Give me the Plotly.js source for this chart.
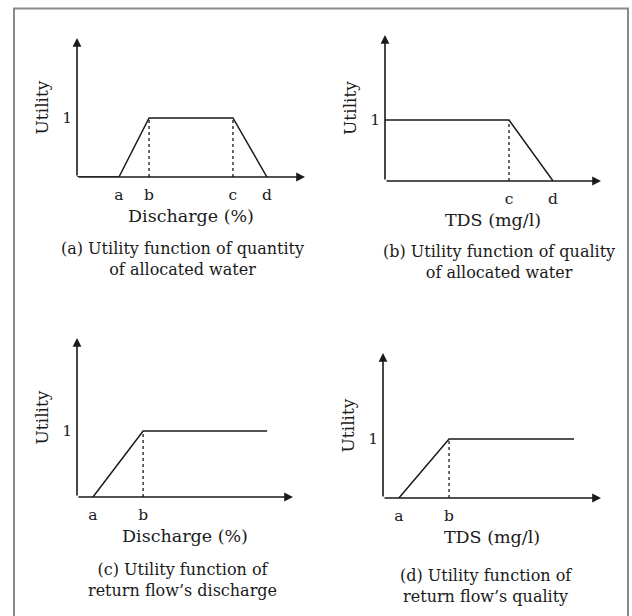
<!DOCTYPE html>
<html>
<head>
<meta charset="utf-8">
<script src="https://cdn.plot.ly/plotly-3.0.1.min.js"></script>
<style>html,body{margin:0;padding:0;background:#fff;}#chart{width:632px;height:616px;}</style>
</head>
<body>
<div id="chart"></div>
<script>
// ---- data (abstract units: axis origin at 0, arrow tip at 10 on x) ----
const panelA_x = [0, 1.84, 3.16, 6.84, 8.33];
const panelA_y = [0, 0, 1, 1, 0];
const panelA_ticks = [1.84, 3.16, 6.84, 8.33];
const panelA_ticktext = ['a', 'b', 'c', 'd'];
const panelA_dotted = [3.16, 6.84];

const panelB_x = [0, 5.74, 7.78];
const panelB_y = [1, 1, 0];
const panelB_ticks = [5.74, 7.78];
const panelB_ticktext = ['c', 'd'];
const panelB_dotted = [5.74];

const panelC_x = [0.74, 3.06, 8.8];
const panelC_y = [0, 1, 1];
const panelC_ticks = [0.74, 3.06];
const panelC_ticktext = ['a', 'b'];
const panelC_dotted = [3.06];

const panelD_x = [0.73, 3.03, 8.76];
const panelD_y = [0, 1, 1];
const panelD_ticks = [0.73, 3.03];
const panelD_ticktext = ['a', 'b'];
const panelD_dotted = [3.03];

const xTitles = ['Discharge (%)', 'TDS (mg/l)', 'Discharge (%)', 'TDS (mg/l)'];
const yTitle = 'Utility';
const captions = [
  '(a) Utility function of quantity<br>of allocated water',
  '(b) Utility function of quality<br>of allocated water',
  '(c) Utility function of<br>return flow\u2019s discharge',
  '(d) Utility function of<br>return flow\u2019s quality'
];

// ---- layout geometry (pixels) ----
const W = 632, H = 616;
const FONT = 'DejaVu Serif';
const INK = '#1a1a1a';
const geo = [
  {x0: 77, x1: 305, yTop: 38, yBase: 177, yOne: 118, cap: [182, 259]},
  {x0: 385, x1: 601, yTop: 35, yBase: 181, yOne: 120, cap: [499, 262]},
  {x0: 77, x1: 293, yTop: 338, yBase: 497, yOne: 431, cap: [182, 580]},
  {x0: 383, x1: 601, yTop: 353, yBase: 498, yOne: 439, cap: [486, 586]}
];
const panels = [
  {x: panelA_x, y: panelA_y, t: panelA_ticks, tt: panelA_ticktext, d: panelA_dotted},
  {x: panelB_x, y: panelB_y, t: panelB_ticks, tt: panelB_ticktext, d: panelB_dotted},
  {x: panelC_x, y: panelC_y, t: panelC_ticks, tt: panelC_ticktext, d: panelC_dotted},
  {x: panelD_x, y: panelD_y, t: panelD_ticks, tt: panelD_ticktext, d: panelD_dotted}
];

const traces = [];
const layout = {
  width: W, height: H,
  margin: {l: 0, r: 0, t: 0, b: 0},
  paper_bgcolor: '#fff', plot_bgcolor: 'rgba(0,0,0,0)',
  showlegend: false,
  font: {family: FONT, color: INK, size: 14},
  annotations: [],
  shapes: [{
    type: 'rect', xref: 'paper', yref: 'paper',
    x0: 14 / W, x1: 628 / W, y0: -0.05, y1: 1 - 8.5 / H,
    line: {color: '#8a8a8a', width: 2}, fillcolor: 'rgba(0,0,0,0)'
  }]
};

panels.forEach((p, i) => {
  const g = geo[i];
  const n = i + 1;
  const xa = 'x' + (n === 1 ? '' : n), ya = 'y' + (n === 1 ? '' : n);
  const xk = 'xaxis' + (n === 1 ? '' : n), yk = 'yaxis' + (n === 1 ? '' : n);
  const yMax = (g.yBase - g.yTop) / (g.yBase - g.yOne);
  layout[xk] = {
    domain: [g.x0 / W, g.x1 / W], range: [0, 10], anchor: ya,
    showgrid: false, zeroline: false, showline: false, ticks: '',
    tickvals: p.t, ticktext: p.tt, tickfont: {size: 15.5, family: FONT, color: INK},
    ticklabelstandoff: 6,
    title: {text: xTitles[i], font: {size: 17.5, family: FONT, color: INK}, standoff: 7},
    fixedrange: true
  };
  layout[yk] = {
    domain: [1 - g.yBase / H, 1 - g.yTop / H], range: [0, yMax], anchor: xa,
    showgrid: false, zeroline: false, showline: false, ticks: '',
    tickvals: [1], ticktext: ['1'], tickfont: {size: 15.5, family: FONT, color: INK},
    ticklabelstandoff: 4,
    title: {text: yTitle, font: {size: 17, family: FONT, color: INK}, standoff: 9},
    fixedrange: true
  };
  layout.annotations.push({
    xref: xa, yref: ya, axref: xa, ayref: ya,
    x: 10, y: 0, ax: 0, ay: 0, text: '', showarrow: true,
    arrowhead: 2, arrowsize: 1.1, arrowwidth: 1.6, arrowcolor: INK
  });
  layout.annotations.push({
    xref: xa, yref: ya, axref: xa, ayref: ya,
    x: 0, y: yMax, ax: 0, ay: 0, text: '', showarrow: true,
    arrowhead: 2, arrowsize: 1.1, arrowwidth: 1.6, arrowcolor: INK
  });
  layout.annotations.push({
    xref: 'paper', yref: 'paper', x: g.cap[0] / W, y: 1 - g.cap[1] / H,
    xanchor: 'center', yanchor: 'middle', showarrow: false,
    text: captions[i], align: 'center',
    font: {size: 16, family: FONT, color: INK}
  });
  traces.push({
    type: 'scatter', mode: 'lines', x: p.x, y: p.y, xaxis: xa, yaxis: ya,
    line: {color: INK, width: 1.5}, hoverinfo: 'skip'
  });
  p.d.forEach(v => {
    traces.push({
      type: 'scatter', mode: 'lines', x: [v, v], y: [0, 1], xaxis: xa, yaxis: ya,
      line: {color: INK, width: 1.3, dash: 'dot'}, hoverinfo: 'skip'
    });
  });
});

Plotly.newPlot('chart', traces, layout, {staticPlot: true});
</script>
</body>
</html>
